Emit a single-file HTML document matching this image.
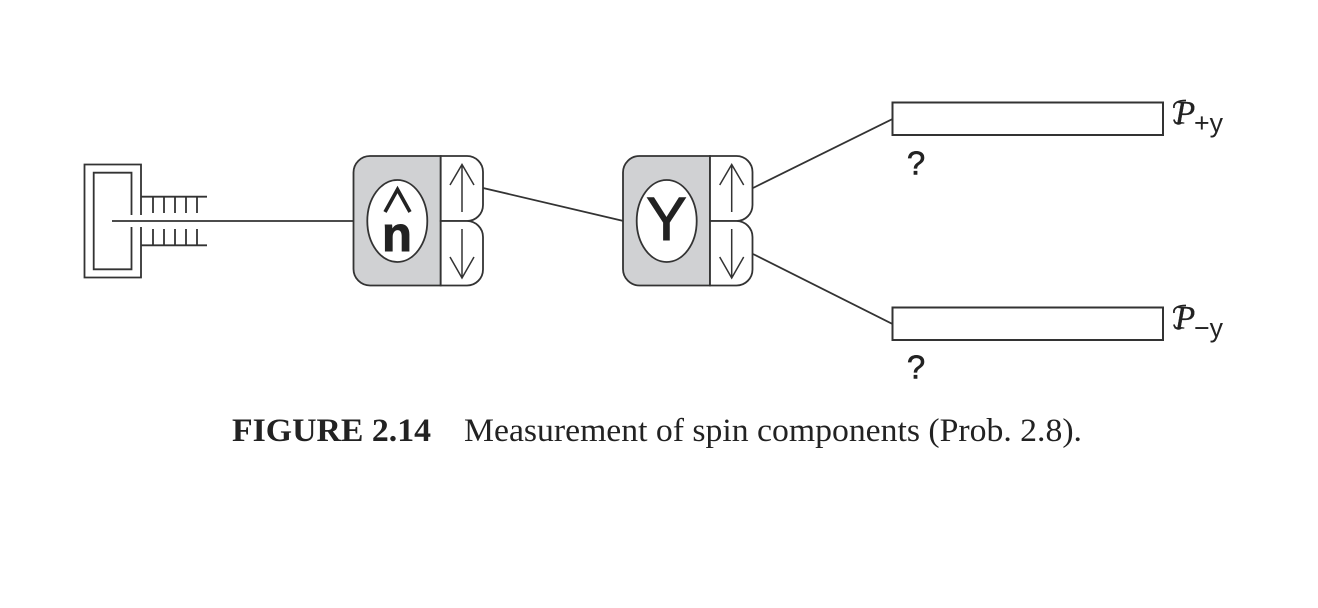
<!DOCTYPE html>
<html><head><meta charset="utf-8"><style>
html,body{margin:0;padding:0;background:#fff}
svg{display:block}
</style></head><body>
<svg xmlns="http://www.w3.org/2000/svg" width="1318" height="608" viewBox="0 0 1318 608">
<rect width="1318" height="608" fill="#fff"/>
<g fill="none" stroke="#333" stroke-width="1.8">
<!-- source -->
<path d="M141 215V164.500H84.500V277.500H141V227"/>
<path d="M131.500 215V172.700H93.700V269.300H131.500V227"/>
<path d="M112 221H354"/>
<path d="M141 196.700H207M141 245.300H207"/>
<path d="M153 197V213M164 197V213M175 197V213M186 197V213M197 197V213"/>
<path d="M153 229V245M164 229V245M175 229V245M186 229V245M197 229V245"/>
<!-- connectors -->
<path d="M483 188L623.500 221M753 188L892.500 119M753 254L892.500 324"/>
<!-- detectors -->
<rect x="892.500" y="102.500" width="270.500" height="32.500" stroke-width="2"/>
<rect x="892.500" y="307.500" width="270.500" height="32.500" stroke-width="2"/>
</g>
<!-- n node -->
<g stroke="#333" stroke-width="1.800">
<path d="M440.700 156H370a16.500 16.500 0 0 0-16.500 16.500V269a16.500 16.500 0 0 0 16.500 16.500H440.700Z" fill="#d0d1d3"/>
<path d="M440.700 156H467a16 16 0 0 1 16 16V205a16 16 0 0 1-16 16H440.700Z" fill="#fff"/>
<path d="M440.700 221H467a16 16 0 0 1 16 16V269.500a16 16 0 0 1-16 16H440.700Z" fill="#fff"/>
<ellipse cx="397.300" cy="221" rx="30" ry="41" fill="#fff"/>
<path d="M462 212V164.500M450 185L462 164.500L474 185M462 229V278M450 257L462 278L474 257" fill="none" stroke-width="1.500"/>
</g>
<!-- Y node -->
<g stroke="#333" stroke-width="1.800">
<path d="M710 156H639.500a16.500 16.500 0 0 0-16.500 16.500V269a16.500 16.500 0 0 0 16.500 16.500H710Z" fill="#d0d1d3"/>
<path d="M710 156H736.500a16 16 0 0 1 16 16V205a16 16 0 0 1-16 16H710Z" fill="#fff"/>
<path d="M710 221H736.500a16 16 0 0 1 16 16V269.500a16 16 0 0 1-16 16H710Z" fill="#fff"/>
<ellipse cx="666.700" cy="221" rx="30" ry="41" fill="#fff"/>
<path d="M731.700 212V164.500M719.700 185L731.700 164.500L743.700 185M731.700 229V278M719.700 257L731.700 278L743.700 257" fill="none" stroke-width="1.500"/>
</g>
<g fill="#222" font-family="'Liberation Sans',sans-serif">
<text x="397" y="251" font-size="49" font-weight="700" text-anchor="middle" stroke="#222" stroke-width="1">n</text>
<path d="M385 212L397.500 189.500L410 212" fill="none" stroke="#222" stroke-width="3.600"/>
<text x="666.500" y="240" font-size="61" text-anchor="middle" stroke="#222" stroke-width="1">Y</text>
<text x="916" y="174.500" font-size="33" text-anchor="middle" stroke="#222" stroke-width=".6">?</text>
<text x="916" y="378.500" font-size="33" text-anchor="middle" stroke="#222" stroke-width=".6">?</text>
<text x="1175" y="123.500" font-size="33" font-family="'Liberation Serif',serif" font-style="italic" stroke="#222" stroke-width=".3">P</text>
<path d="M1174 108C1173 103 1178 100.500 1186 100.500M1181 123C1178 125 1174.500 123 1174 119.500" fill="none" stroke="#222" stroke-width="1.800"/>
<text x="1194" y="132" font-size="27" textLength="29" lengthAdjust="spacingAndGlyphs">+y</text>
<text x="1175" y="328.500" font-size="33" font-family="'Liberation Serif',serif" font-style="italic" stroke="#222" stroke-width=".3">P</text>
<path d="M1174 313C1173 308 1178 305.500 1186 305.500M1181 328C1178 330 1174.500 328 1174 324.500" fill="none" stroke="#222" stroke-width="1.800"/>
<text x="1194" y="337" font-size="27" textLength="29" lengthAdjust="spacingAndGlyphs">−y</text>
</g>
<g fill="#222" font-family="'Liberation Serif',serif" font-size="33">
<text x="232" y="441" font-weight="700" textLength="199" lengthAdjust="spacingAndGlyphs">FIGURE 2.14</text>
<text x="464" y="441" textLength="618" lengthAdjust="spacingAndGlyphs">Measurement of spin components (Prob. 2.8).</text>
</g>
</svg>
</body></html>
